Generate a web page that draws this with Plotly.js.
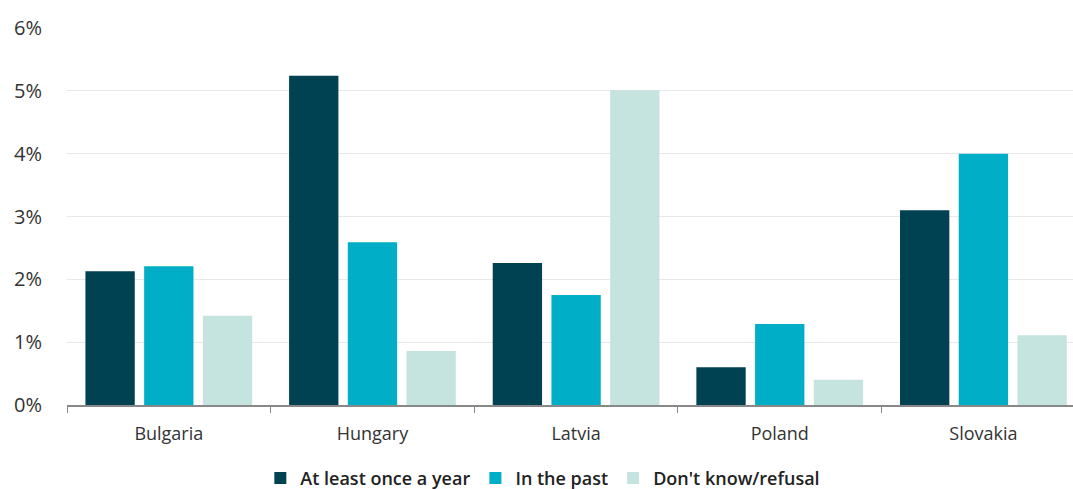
<!DOCTYPE html>
<html><head><meta charset="utf-8">
<script src="https://cdn.plot.ly/plotly-3.0.1.min.js"></script>
<style>html,body{margin:0;padding:0;background:#fff}</style>
</head><body><div id="chart" style="width:1073px;height:489px"></div>
<script>
const countries = ["Bulgaria","Hungary","Latvia","Poland","Slovakia"];
const atLeastOnceAYear = [2.13, 5.24, 2.26, 0.60, 3.10];
const inThePast = [2.21, 2.59, 1.75, 1.29, 4.00];
const dontKnowRefusal = [1.42, 0.86, 5.01, 0.40, 1.11];
const yTickVals = [0,1,2,3,4,5,6];
const yTickText = ["0%","1%","2%","3%","4%","5%","6%"];

const font = "Open Sans, Noto Sans, sans-serif";
const traces = [
  {type:"bar", name:"At least once a year", x:countries, y:atLeastOnceAYear, marker:{color:"#004152"}},
  {type:"bar", name:"In the past", x:countries, y:inThePast, marker:{color:"#00AEC7"}},
  {type:"bar", name:"Don't know/refusal", x:countries, y:dontKnowRefusal, marker:{color:"#C5E4E0"}}
];
const layout = {
  width:1073, height:489,
  margin:{l:67, r:0, t:28, b:84, autoexpand:false},
  paper_bgcolor:"#fff", plot_bgcolor:"#fff",
  barmode:"group", bargap:0.135, bargroupgap:0.16,
  font:{family:font, color:"#333", size:17},
  showlegend:true,
  legend:{orientation:"h", x:0.473, xanchor:"center", yref:"container", y:0.022, yanchor:"middle",
    font:{size:18, color:"#222", weight:600}, itemwidth:30, traceorder:"normal"},
  xaxis:{range:[-0.5, 4.44], showgrid:false, showline:true, linecolor:"#888", linewidth:1.5,
    ticks:"outside", tickson:"boundaries", ticklen:6, tickcolor:"#888",
    ticklabelstandoff:12, tickfont:{size:18, color:"#333"}},
  yaxis:{range:[0,6], tickvals:yTickVals, ticktext:yTickText, showgrid:true,
    gridcolor:"#e8e8e8", gridwidth:1, zeroline:false, showline:false,
    ticks:"", ticklabelstandoff:24, tickfont:{size:20, color:"#333"}}
};
Plotly.newPlot("chart", traces, layout, {displayModeBar:false, staticPlot:true});
</script></body></html>
